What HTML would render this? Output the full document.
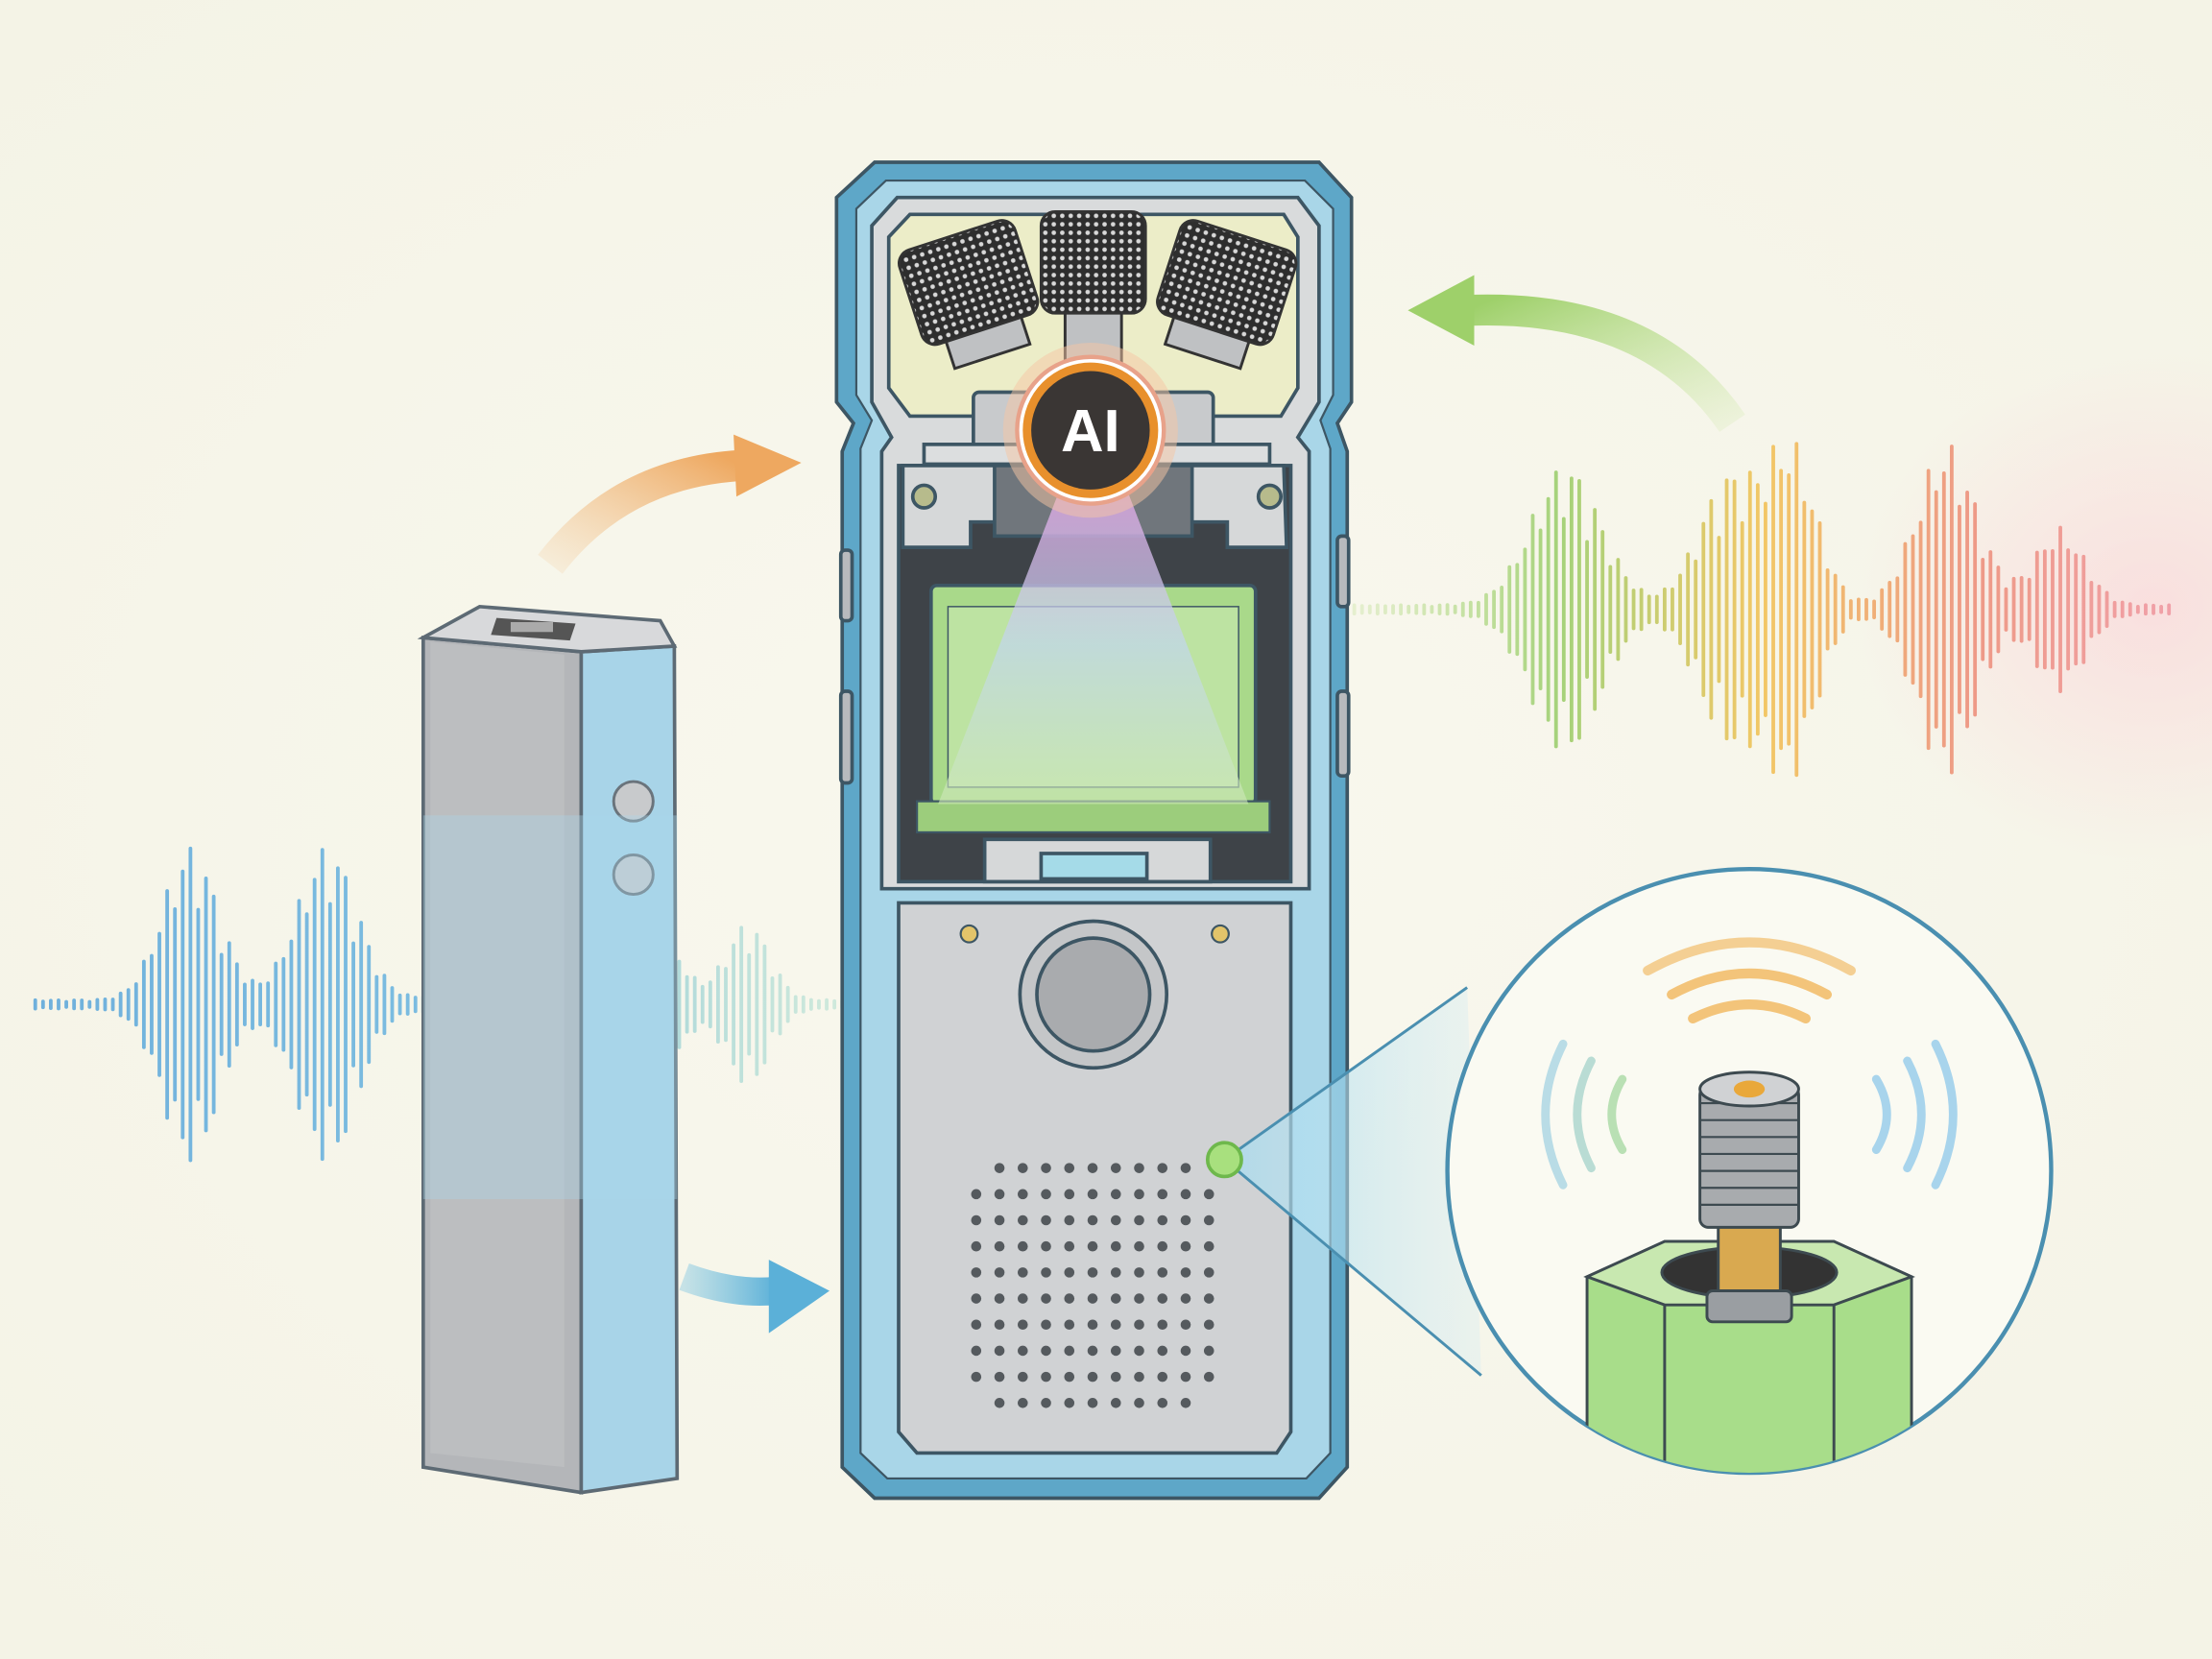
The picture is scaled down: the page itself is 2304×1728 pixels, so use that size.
<!DOCTYPE html>
<html><head><meta charset="utf-8">
<style>
html,body{margin:0;padding:0;background:#f8f7ee;}
svg{display:block;}
</style></head>
<body>
<svg id="s" width="2304" height="1728" viewBox="0 0 1568 1176" xmlns="http://www.w3.org/2000/svg">
<defs>
<radialGradient id="bg" cx="0.5" cy="0.5" r="0.7">
<stop offset="0" stop-color="#f9f8ee"/><stop offset="1" stop-color="#f4f3e6"/></radialGradient>
<linearGradient id="rw" x1="960" y1="0" x2="1540" y2="0" gradientUnits="userSpaceOnUse">
<stop offset="0" stop-color="#b9dc8a" stop-opacity="0.3"/><stop offset="0.25" stop-color="#a5d27a"/>
<stop offset="0.5" stop-color="#f2c766"/><stop offset="0.75" stop-color="#ee9a86"/><stop offset="1" stop-color="#f0a0a8"/></linearGradient>
<linearGradient id="lw" x1="25" y1="0" x2="600" y2="0" gradientUnits="userSpaceOnUse">
<stop offset="0" stop-color="#6fb0dc"/><stop offset="0.5" stop-color="#7cbde0"/><stop offset="1" stop-color="#a8dccb" stop-opacity="0.5"/></linearGradient>
<linearGradient id="beam" x1="0" y1="0" x2="0" y2="1">
<stop offset="0" stop-color="#e3a6e6" stop-opacity="0.8"/><stop offset="0.5" stop-color="#c2d6f0" stop-opacity="0.7"/><stop offset="1" stop-color="#cfe9b8" stop-opacity="0.6"/></linearGradient>
<linearGradient id="mag" x1="0" y1="0" x2="1" y2="0">
<stop offset="0" stop-color="#a9dcef" stop-opacity="0.8"/><stop offset="1" stop-color="#cfeaf4" stop-opacity="0.3"/></linearGradient>
<linearGradient id="oarr" x1="0" y1="1" x2="1" y2="0">
<stop offset="0" stop-color="#f3c590" stop-opacity="0.2"/><stop offset="1" stop-color="#eea860"/></linearGradient>
<linearGradient id="garr" x1="1" y1="1" x2="0" y2="0">
<stop offset="0" stop-color="#c8e6a0" stop-opacity="0.2"/><stop offset="1" stop-color="#9ed06a"/></linearGradient>
<linearGradient id="barr" x1="0" y1="0" x2="1" y2="0">
<stop offset="0" stop-color="#7cc4e0" stop-opacity="0.4"/><stop offset="1" stop-color="#5bb0d8"/></linearGradient>
<pattern id="knurl" width="6" height="6" patternUnits="userSpaceOnUse">
<rect width="6" height="6" fill="#2e2e2e"/><circle cx="3" cy="3" r="1.6" fill="#d8d8d8"/></pattern>
<radialGradient id="pink" cx="0.9" cy="0.5" r="0.5"><stop offset="0" stop-color="#fbd6da" stop-opacity="0.7"/><stop offset="1" stop-color="#fbd6da" stop-opacity="0"/></radialGradient>
<clipPath id="cc"><circle cx="1240" cy="830" r="214"/></clipPath>
</defs>
<rect width="1568" height="1176" fill="url(#bg)"/>
<rect x="1150" y="250" width="418" height="360" fill="url(#pink)"/>

<path d="M390 400 Q440 335 525 330" fill="none" stroke="url(#oarr)" stroke-width="22"/>
<polygon points="520,308 568,328 522,352" fill="#eea860"/>
<path d="M1228 300 Q1170 215 1040 220" fill="none" stroke="url(#garr)" stroke-width="22"/>
<polygon points="1045,195 998,220 1045,245" fill="#9ed06a"/>
<path d="M485 905 Q520 918 550 915" fill="none" stroke="url(#barr)" stroke-width="20"/>
<polygon points="545,893 588,915 545,945" fill="#5bb0d8"/>

<g id="waves"></g>

<g>
<path d="M300 452 L412 462 L412 1058 L300 1040 Z" fill="#b4b6b9" stroke="#5d6a74" stroke-width="2.5"/>
<path d="M412 462 L478 458 L480 1048 L412 1058 Z" fill="#a8d4e8" stroke="#5d6a74" stroke-width="2.5"/>
<path d="M300 452 L340 430 L468 440 L478 458 L412 462 Z" fill="#d8d9db" stroke="#5d6a74" stroke-width="2.5"/>
<path d="M305 455 L400 464 L400 1040 L305 1030 Z" fill="#c4c6c8" opacity="0.5"/>
<path d="M352 438 L408 442 L404 454 L348 450 Z" fill="#555"/>
<rect x="362" y="441" width="30" height="7" fill="#aaa"/>
<circle cx="449" cy="568" r="14" fill="#c8cacc" stroke="#6a747c" stroke-width="2"/>
<circle cx="449" cy="620" r="14" fill="#c8cacc" stroke="#6a747c" stroke-width="2"/>
<rect x="300" y="578" width="180" height="272" fill="#a9d6ea" opacity="0.35"/>
</g>

<g stroke="#3d5664" stroke-width="2.5">
<path d="M620 115 L935 115 L958 140 L958 285 L948 300 L955 320 L955 1040 L935 1062 L620 1062 L597 1040 L597 320 L605 300 L593 285 L593 140 Z" fill="#5ea7c8"/>
<path d="M628 128 L925 128 L945 148 L945 280 L936 298 L943 318 L943 1030 L926 1048 L629 1048 L610 1030 L610 318 L618 298 L607 280 L607 148 Z" fill="#a9d6e8" stroke-width="1.5"/>
<rect x="596" y="390" width="8" height="50" rx="3" fill="#b8babd"/>
<rect x="596" y="490" width="8" height="65" rx="3" fill="#b8babd"/>
<rect x="948" y="380" width="8" height="50" rx="3" fill="#b8babd"/>
<rect x="948" y="490" width="8" height="60" rx="3" fill="#b8babd"/>
<path d="M636 140 L920 140 L935 160 L935 285 L920 310 L928 320 L928 630 L625 630 L625 320 L632 310 L618 285 L618 160 Z" fill="#d9dbdc"/>
<path d="M645 152 L910 152 L920 168 L920 275 L908 295 L645 295 L630 275 L630 168 Z" fill="#ecedc8"/>
<rect x="690" y="278" width="170" height="40" rx="4" fill="#c8cacc"/>
<rect x="655" y="315" width="245" height="14" fill="#dcdedf"/>
<rect x="637" y="330" width="278" height="295" fill="#3e4348"/>
<path d="M640 330 L910 330 L912 388 L870 388 L870 370 L688 370 L688 388 L640 388 Z" fill="#d6d8d9"/>
<rect x="705" y="330" width="140" height="50" fill="#70767c"/>
<circle cx="655" cy="352" r="8" fill="#b7bb8c"/>
<circle cx="900" cy="352" r="8" fill="#b7bb8c"/>
<rect x="660" y="415" width="230" height="155" rx="4" fill="#a9d98a"/>
<rect x="672" y="430" width="206" height="128" fill="#bde3a2" stroke-width="1"/>
<rect x="650" y="568" width="250" height="22" fill="#9ccd7c" stroke-width="1.5"/>
<rect x="698" y="595" width="160" height="30" fill="#d6d8d9"/>
<rect x="738" y="605" width="75" height="18" fill="#a5dbe8"/>
<path d="M637 640 L915 640 L915 1015 L905 1030 L650 1030 L637 1015 Z" fill="#d0d2d4"/>
<circle cx="775" cy="705" r="52" fill="#c4c6c8"/>
<circle cx="775" cy="705" r="40" fill="#a9abae"/>
<circle cx="687" cy="662" r="6" fill="#e2c46a" stroke-width="1.5"/>
<circle cx="865" cy="662" r="6" fill="#e2c46a" stroke-width="1.5"/>
</g>
<g id="grille"></g>

<polygon points="868,822 1040,700 1050,975" fill="url(#mag)"/>
<line x1="868" y1="822" x2="1040" y2="700" stroke="#4a8fb0" stroke-width="2"/>
<line x1="868" y1="822" x2="1050" y2="975" stroke="#4a8fb0" stroke-width="2"/>
<circle cx="868" cy="822" r="12" fill="#a8e07e" stroke="#6eb84c" stroke-width="2.5"/>

<g stroke="#333" stroke-width="2">
<g transform="rotate(-18 688 205)"><rect x="660" y="215" width="56" height="40" fill="#bfc1c3"/><rect x="645" y="165" width="86" height="70" rx="10" fill="url(#knurl)"/></g>
<rect x="755" y="215" width="40" height="50" fill="#bfc1c3"/>
<rect x="738" y="150" width="74" height="72" rx="10" fill="url(#knurl)"/>
<g transform="rotate(18 868 205)"><rect x="840" y="215" width="56" height="40" fill="#bfc1c3"/><rect x="825" y="165" width="86" height="70" rx="10" fill="url(#knurl)"/></g>
</g>

<polygon points="752,345 798,345 885,570 665,570" fill="url(#beam)"/>
<circle cx="773" cy="305" r="62" fill="#f5c6a4" opacity="0.5"/>
<circle cx="773" cy="305" r="52" fill="#fff" stroke="#e8a28a" stroke-width="3"/>
<circle cx="773" cy="305" r="45" fill="#3a3634" stroke="#e8902c" stroke-width="6"/>
<text x="773" y="320" text-anchor="middle" font-family="Liberation Sans, sans-serif" font-weight="bold" font-size="42" fill="#fff">AI</text>

<circle cx="1240" cy="830" r="214" fill="#fafaf2" stroke="#4a8fb0" stroke-width="3"/>
<g clip-path="url(#cc)" stroke="#3d4a50" stroke-width="2">
<path d="M1125 905 L1180 880 L1300 880 L1355 905 L1355 1060 L1125 1060 Z" fill="#a8dd8a"/>
<path d="M1125 905 L1180 880 L1300 880 L1355 905 L1300 925 L1180 925 Z" fill="#c8e8b0"/>
<ellipse cx="1240" cy="902" rx="62" ry="18" fill="#333"/>
<line x1="1180" y1="925" x2="1180" y2="1060"/><line x1="1300" y1="925" x2="1300" y2="1060"/>
<rect x="1218" y="860" width="44" height="70" fill="#d9a950"/>
<rect x="1210" y="915" width="60" height="22" rx="4" fill="#9a9ea2"/>
<rect x="1205" y="770" width="70" height="100" rx="6" fill="#a8abae"/>
<g stroke-width="1.5"><line x1="1205" y1="782" x2="1275" y2="782"/><line x1="1205" y1="794" x2="1275" y2="794"/><line x1="1205" y1="806" x2="1275" y2="806"/><line x1="1205" y1="818" x2="1275" y2="818"/><line x1="1205" y1="830" x2="1275" y2="830"/><line x1="1205" y1="842" x2="1275" y2="842"/><line x1="1205" y1="854" x2="1275" y2="854"/></g>
<ellipse cx="1240" cy="772" rx="35" ry="12" fill="#d0d2d4"/>
<ellipse cx="1240" cy="772" rx="11" ry="6" fill="#e9a83a" stroke="none"/>
</g>
<g fill="none" stroke-linecap="round">
<path d="M1185 705 Q1240 675 1295 705" stroke="#f3c47a" stroke-width="7"/>
<path d="M1168 688 Q1240 648 1312 688" stroke="#f3c47a" stroke-width="7" opacity="0.8"/>
<path d="M1200 722 Q1240 702 1280 722" stroke="#f3c47a" stroke-width="7"/>
<path d="M1150 765 Q1135 790 1150 815" stroke="#b9e0b4" stroke-width="6"/>
<path d="M1128 752 Q1108 790 1128 828" stroke="#b9dcd4" stroke-width="6"/>
<path d="M1108 740 Q1083 790 1108 840" stroke="#b9dce6" stroke-width="6"/>
<path d="M1330 765 Q1345 790 1330 815" stroke="#a8d4ec" stroke-width="6"/>
<path d="M1352 752 Q1372 790 1352 828" stroke="#a8d4ec" stroke-width="6"/>
<path d="M1372 740 Q1397 790 1372 840" stroke="#a8d4ec" stroke-width="6"/>
</g>
</svg>
<script>
(function(){
var w=document.getElementById("waves"),out="";
function wave(x0,x1,cy,bursts,grad,sw){
 for(var x=x0;x<=x1;x+=5.5){
  var a=3;
  bursts.forEach(function(b){var d=(x-b[0])/b[2];a+=b[1]*Math.exp(-d*d);});
  a*=0.55+0.45*Math.abs(Math.cos(x*0.37));
  out+='<line x1="'+x+'" y1="'+(cy-a)+'" x2="'+x+'" y2="'+(cy+a)+'" stroke="url(#'+grad+')" stroke-width="'+sw+'" stroke-linecap="round"/>';
 }
}
wave(25,600,712,[[135,110,28],[232,110,30],[350,85,28],[460,70,25],[530,55,22]],"lw",2.6);
wave(960,1540,432,[[1110,100,35],[1225,90,30],[1270,110,25],[1380,115,30],[1460,55,25]],"rw",2.6);
w.innerHTML=out;
var g=document.getElementById("grille"),o="";
for(var r=0;r<10;r++)for(var c=0;c<11;c++){
 var x=692+c*16.5,y=828+r*18.5;
 if((r==0||r==9)&&(c==0||c==10))continue;
 o+='<circle cx="'+x+'" cy="'+y+'" r="3.6" fill="#555a5e"/>';
}
g.innerHTML=o;
})();
</script>
</body></html>
